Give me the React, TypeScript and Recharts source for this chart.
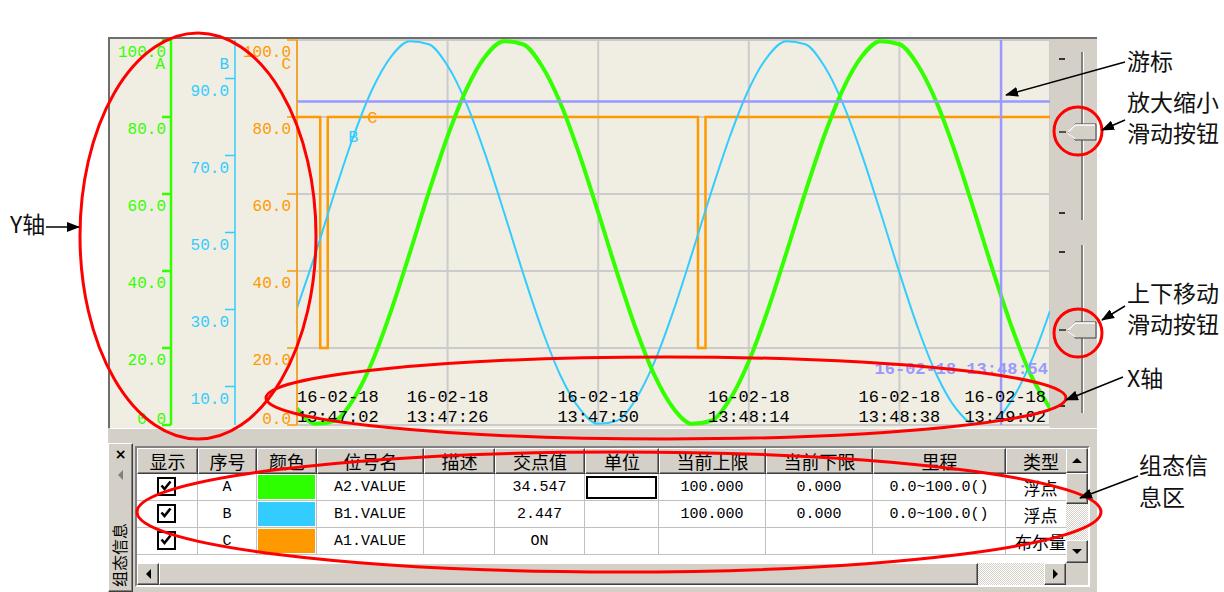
import React from 'react';
import { LineChart, Line, XAxis, YAxis, CartesianGrid, ReferenceLine, ReferenceDot } from 'recharts';

const MONO = '"Liberation Mono", "DejaVu Sans Mono", monospace';
const CJK = '"Noto Sans CJK SC", "Noto Sans", sans-serif';

const GREEN = '#33FF00';
const BLUE = '#33CCFF';
const ORANGE = '#FF9900';
const CURSOR = '#9999FF';
const PANEL = '#D4D0C8';
const PLOT_BG = '#F0EDE2';
const GRID = '#CBCBCB';

// axis ids (C sits next to the plot, A is outermost)
const AX_A = 'yc';
const AX_B = 'yb';
const AX_C = 'ya';

// ---- data ----
const dateLabel = '16-02-18';
const tickSeconds = [0, 24, 48, 72, 96, 120];
const timeLabels = ['13:47:02', '13:47:26', '13:47:50', '13:48:14', '13:48:38', '13:49:02'];

const sampleTimes = [0, 3, 6, 9, 12, 15, 18, 21, 24, 27, 30, 33, 36, 39, 42, 45, 48, 51, 54, 57, 60, 63, 66, 69, 72, 75, 78, 81, 84, 87, 90, 93, 96, 99, 102, 105, 108, 111, 114, 117, 120];
const seriesA = [4.3, 0.3, 1.1, 6.7, 16.5, 29.7, 44.8, 60.4, 75.0, 87.2, 95.7, 99.7, 98.9, 93.3, 83.5, 70.3, 55.2, 39.6, 25.0, 12.8, 4.3, 0.3, 1.1, 6.7, 16.5, 29.7, 44.8, 60.4, 75.0, 87.2, 95.7, 99.7, 98.9, 93.3, 83.5, 70.3, 55.2, 39.6, 25.0, 12.8, 4.4];
const seriesB = [30.4, 44.8, 60.4, 75.0, 87.2, 95.7, 99.7, 98.9, 93.3, 83.5, 70.3, 55.2, 39.6, 25.0, 12.8, 4.3, 0.3, 1.1, 6.7, 16.5, 29.7, 44.8, 60.4, 75.0, 87.2, 95.7, 99.7, 98.9, 93.3, 83.5, 70.3, 55.2, 39.6, 25.0, 12.8, 4.3, 0.3, 1.1, 6.7, 16.5, 29.6];
const cTimes = [0, 3.7, 4.9, 63.9, 65.1, 120];
const seriesC = [80, 20, 80, 20, 80, 80];

const ticksA = [0, 20, 40, 60, 80, 100];
const ticksB = [10, 30, 50, 70, 90];
const ticksC = [0, 20, 40, 60, 80, 100];

const labelBIndex = 3; // B tag sits on the B curve at t = 9 s
const labelCTime = 12;
const labelCValue = 80;

const cursorTime = 112.2;
const cursorValue = 84;
const cursorText = '16-02-18 13:48:54';

// table
const tableHeaders = ['显示', '序号', '颜色', '位号名', '描述', '交点值', '单位', '当前上限', '当前下限', '里程', '类型'];
const tableWidths = [61, 59, 60, 107, 71, 90, 74, 107, 107, 133, 70];
const tagIds = ['A', 'B', 'C'];
const tagColors = ['#2EFF00', '#33CCFF', '#FF9900'];
const tagNames = ['A2.VALUE', 'B1.VALUE', 'A1.VALUE'];
const crossValues = ['34.547', '2.447', 'ON'];
const upperLimits = ['100.000', '100.000', ''];
const lowerLimits = ['0.000', '0.000', ''];
const ranges = ['0.0~100.0()', '0.0~100.0()', ''];
const dataTypes = ['浮点', '浮点', '布尔量'];

const chartRows: any[] = [
  ...sampleTimes.map((t, i) => ({ t, a: seriesA[i], b: seriesB[i] })),
  ...cTimes.map((t, i) => ({ t, c: seriesC[i] })),
].sort((p, q) => p.t - q.t);

const YTick = ({ x, y, payload, color }: any) => {
  const v = payload.value;
  return (
    <text x={x + 4} y={v === 0 ? y - 1 : y + 17} textAnchor="end" fill={color} fontFamily={MONO} fontSize={16}>
      {Number(v).toFixed(1)}
    </text>
  );
};

const XTick = ({ x, y, payload }: any) => {
  const i = tickSeconds.indexOf(payload.value);
  const last = tickSeconds.length - 1;
  const anchor = i === 0 ? 'start' : i === last ? 'end' : 'middle';
  const tx = i === last ? x - 4 : x;
  return (
    <g>
      <text x={tx} y={y - 23} textAnchor={anchor} fill="#000" fontFamily={MONO} fontSize={17}>{dateLabel}</text>
      <text x={tx} y={y - 3} textAnchor={anchor} fill="#000" fontFamily={MONO} fontSize={17}>{timeLabels[i]}</text>
    </g>
  );
};

const AxisName = ({ viewBox, text, color }: any) =>
  viewBox ? (
    <text x={viewBox.x + viewBox.width - 6} y={viewBox.y + 29} textAnchor="end" fill={color} fontFamily={MONO} fontSize={16}>
      {text}
    </text>
  ) : null;

const CursorLabel = ({ viewBox }: any) =>
  viewBox ? (
    <text x={viewBox.x + viewBox.width - 2} y={335} textAnchor="end" fill={CURSOR} fontFamily={MONO} fontSize={17} fontWeight="bold">
      {cursorText}
    </text>
  ) : null;

const raised: React.CSSProperties = {
  position: 'absolute',
  background: PANEL,
  boxSizing: 'border-box',
  borderStyle: 'solid',
  borderWidth: 1,
  borderColor: '#fff #404040 #404040 #fff',
  boxShadow: 'inset -1px -1px 0 #808080',
};

const hatch: React.CSSProperties = {
  position: 'absolute',
  background: 'repeating-conic-gradient(#D4D0C8 0 25%, #ffffff 0 50%) 0 0 / 2px 2px',
};

const Tri = ({ dir, color = '#000' }: { dir: 'up' | 'down' | 'left' | 'right'; color?: string }) => {
  const pts =
    dir === 'up' ? '0,6 5,1 10,6' : dir === 'down' ? '0,1 5,6 10,1' : dir === 'left' ? '6,0 1,5 6,10' : '1,0 6,5 1,10';
  const w = dir === 'up' || dir === 'down' ? 10 : 7;
  const h = dir === 'up' || dir === 'down' ? 7 : 10;
  return (
    <svg width={w} height={h} style={{ position: 'absolute', left: '50%', top: '50%', marginLeft: -w / 2, marginTop: -h / 2 }}>
      <polygon points={pts} fill={color} />
    </svg>
  );
};

const CheckBox = () => (
  <div style={{ position: 'absolute', left: '50%', top: '50%', width: 19, height: 19, marginLeft: -10, marginTop: -10, border: '2.5px solid #000', boxSizing: 'border-box', background: '#fff' }}>
    <svg width={14} height={14} style={{ position: 'absolute', left: 0, top: 0 }}>
      <polyline points="2.5,6.5 5.5,10 11.5,2.5" fill="none" stroke="#000" strokeWidth={2.6} />
    </svg>
  </div>
);

const Slider = ({ top, bottom, thumb }: { top: number; bottom: number; thumb: number }) => (
  <g>
    <line x1={1059} x2={1065} y1={top + 7} y2={top + 7} stroke="#000" strokeWidth={1.5} />
    <line x1={1059} x2={1065} y1={bottom - 7} y2={bottom - 7} stroke="#000" strokeWidth={1.5} />
    <line x1={1082} x2={1082} y1={top} y2={bottom} stroke="#808080" strokeWidth={2} />
    <line x1={1083.5} x2={1083.5} y1={top} y2={bottom} stroke="#ffffff" strokeWidth={1} />
    <line x1={1059} x2={1066} y1={thumb} y2={thumb} stroke="#000" strokeWidth={1.2} />
    <polygon
      points={`1068,${thumb} 1075,${thumb - 8} 1096,${thumb - 8} 1096,${thumb + 8} 1075,${thumb + 8}`}
      fill={PANEL}
      stroke="#404040"
      strokeWidth={1}
    />
    <polyline points={`1068,${thumb} 1075,${thumb - 7} 1095,${thumb - 7}`} fill="none" stroke="#fff" strokeWidth={1.5} />
    <line x1={1068} x2={1075} y1={thumb + 1} y2={thumb + 7} stroke="#fff" strokeWidth={1.2} />
  </g>
);

const colLefts = tableWidths.map((_, i) => tableWidths.slice(0, i).reduce((s, w) => s + w, 0));

const cellText = (txt: string, cjk = false): React.ReactNode => (
  <div style={{ position: 'absolute', inset: 0, display: 'flex', alignItems: 'center', justifyContent: 'center', fontFamily: cjk ? CJK : MONO, fontSize: cjk ? 17 : 15, color: '#000', whiteSpace: 'nowrap' }}>
    {txt}
  </div>
);

const renderCell = (r: number, c: number): React.ReactNode => {
  switch (c) {
    case 0:
      return <CheckBox />;
    case 1:
      return cellText(tagIds[r]);
    case 2:
      return <div style={{ position: 'absolute', left: 1, top: 1, right: 1, bottom: 1, background: tagColors[r] }} />;
    case 3:
      return cellText(tagNames[r]);
    case 5:
      return cellText(crossValues[r]);
    case 6:
      return r === 0 ? <div style={{ position: 'absolute', left: 1, top: 2, right: 1, bottom: 1, border: '2px solid #000' }} /> : null;
    case 7:
      return cellText(upperLimits[r]);
    case 8:
      return cellText(lowerLimits[r]);
    case 9:
      return cellText(ranges[r]);
    case 10:
      return cellText(dataTypes[r], true);
    default:
      return null;
  }
};

const annoText: React.SVGProps<SVGTextElement> = { fontFamily: CJK, fontSize: 23, fill: '#111' };

export default function App() {
  return (
    <div style={{ position: 'absolute', left: 0, top: 0, width: 1224, height: 592, background: '#fff', overflow: 'hidden', fontFamily: CJK }}>
      {/* window */}
      <div style={{ position: 'absolute', left: 108, top: 37, width: 989, height: 555, background: PANEL }} />
      <div style={{ position: 'absolute', left: 108, top: 37, width: 989, height: 2, background: '#6E6E6E' }} />
      <div style={{ position: 'absolute', left: 108, top: 37, width: 2, height: 391, background: '#6E6E6E' }} />
      <div style={{ position: 'absolute', left: 110, top: 428, width: 987, height: 1, background: '#FFFFFF' }} />

      {/* trend chart */}
      <div style={{ position: 'absolute', left: 110, top: 39, width: 940, height: 389, background: PLOT_BG }}>
        <LineChart width={940} height={389} data={chartRows} margin={{ top: 1, right: 0, bottom: 0, left: 0 }}>
          <CartesianGrid yAxisId={AX_C} stroke={GRID} strokeWidth={2} />
          <XAxis
            dataKey="t"
            type="number"
            domain={[0, 120]}
            ticks={tickSeconds}
            interval={0}
            height={3}
            tickSize={0}
            tickMargin={0}
            axisLine={false}
            tickLine={false}
            tick={<XTick />}
            allowDataOverflow
          />
          <YAxis
            yAxisId={AX_C}
            type="number"
            domain={[0, 100]}
            ticks={ticksC}
            interval={0}
            width={62}
            tickSize={10}
            tickMargin={0}
            axisLine={{ stroke: ORANGE, strokeWidth: 1.5 }}
            tickLine={{ stroke: ORANGE, strokeWidth: 1.5 }}
            tick={<YTick color={ORANGE} />}
            label={<AxisName text="C" color={ORANGE} />}
          />
          <YAxis
            yAxisId={AX_B}
            type="number"
            domain={[0, 100]}
            ticks={ticksB}
            interval={0}
            width={64}
            tickSize={10}
            tickMargin={0}
            axisLine={{ stroke: BLUE, strokeWidth: 1.5 }}
            tickLine={{ stroke: BLUE, strokeWidth: 1.5 }}
            tick={<YTick color={BLUE} />}
            label={<AxisName text="B" color={BLUE} />}
          />
          <YAxis
            yAxisId={AX_A}
            type="number"
            domain={[0, 100]}
            ticks={ticksA}
            interval={0}
            width={61}
            tickSize={9}
            tickMargin={0}
            axisLine={{ stroke: GREEN, strokeWidth: 2.5 }}
            tickLine={{ stroke: GREEN, strokeWidth: 2.5 }}
            tick={<YTick color={GREEN} />}
            label={<AxisName text="A" color={GREEN} />}
          />
          <Line yAxisId={AX_C} dataKey="c" type="stepAfter" stroke={ORANGE} strokeWidth={2.5} dot={false} connectNulls isAnimationActive={false} />
          <Line yAxisId={AX_B} dataKey="b" type="monotone" stroke={BLUE} strokeWidth={2} dot={false} connectNulls isAnimationActive={false} />
          <Line yAxisId={AX_A} dataKey="a" type="monotone" stroke={GREEN} strokeWidth={4} dot={false} connectNulls isAnimationActive={false} />
          <ReferenceLine yAxisId={AX_C} x={cursorTime} stroke={CURSOR} strokeWidth={2.5} />
          <ReferenceLine yAxisId={AX_C} y={cursorValue} stroke={CURSOR} strokeWidth={2.5} label={<CursorLabel />} />
          <ReferenceDot
            yAxisId={AX_B}
            x={sampleTimes[labelBIndex]}
            y={seriesB[labelBIndex]}
            r={1}
            fill="none"
            stroke="none"
            label={{ value: 'B', position: 'center', fill: BLUE, fontSize: 17, fontFamily: MONO }}
          />
          <ReferenceDot
            yAxisId={AX_C}
            x={labelCTime}
            y={labelCValue}
            r={1}
            fill="none"
            stroke="none"
            label={{ value: 'C', position: 'center', fill: ORANGE, fontSize: 17, fontFamily: MONO }}
          />
        </LineChart>
      </div>

      {/* info area: left strip */}
      <div style={{ ...raised, left: 108, top: 443, width: 25, height: 149 }}>
        <div style={{ position: 'absolute', left: 0, right: 0, top: 2, textAlign: 'center', fontFamily: '"DejaVu Sans", sans-serif', fontWeight: 'bold', fontSize: 14, lineHeight: '16px' }}>×</div>
        <div style={{ position: 'absolute', left: 0, right: 0, top: 24, height: 14 }}>
          <Tri dir="left" color="#808080" />
        </div>
        <svg width={25} height={149} style={{ position: 'absolute', left: -1, top: -1 }}>
          <text transform="translate(18,144) rotate(-90)" fontFamily={CJK} fontSize={16} fill="#000">组态信息</text>
        </svg>
      </div>

      {/* info area: table frame */}
      <div style={{ position: 'absolute', left: 135, top: 446, width: 955, height: 141, boxSizing: 'border-box', borderStyle: 'solid', borderWidth: 2, borderColor: '#808080 #ffffff #ffffff #808080', background: '#fff' }} />
      <div style={{ position: 'absolute', left: 137, top: 448, width: 929, height: 107, overflow: 'hidden' }}>
        {tableHeaders.map((h, c) => (
          <div key={'h' + c} style={{ ...raised, left: colLefts[c], top: 0, width: tableWidths[c], height: 26 }}>
            <div style={{ position: 'absolute', inset: 0, display: 'flex', alignItems: 'center', justifyContent: 'center', fontFamily: CJK, fontSize: 18, whiteSpace: 'nowrap' }}>{h}</div>
          </div>
        ))}
        {tagIds.map((_, r) =>
          tableWidths.map((w, c) => (
            <div
              key={'c' + r + '-' + c}
              style={{ position: 'absolute', left: colLefts[c], top: 26 + r * 27, width: w, height: 27, boxSizing: 'border-box', borderRight: '1px solid #C0C0C0', borderBottom: '1px solid #C0C0C0', background: '#fff', overflow: 'visible' }}
            >
              {renderCell(r, c)}
            </div>
          ))
        )}
      </div>

      {/* vertical scrollbar */}
      <div style={{ ...raised, left: 1066, top: 448, width: 22, height: 25 }}><Tri dir="up" /></div>
      <div style={{ ...raised, left: 1066, top: 473, width: 22, height: 31 }} />
      <div style={{ ...hatch, left: 1066, top: 504, width: 22, height: 36 }} />
      <div style={{ ...raised, left: 1066, top: 540, width: 22, height: 23 }}><Tri dir="down" /></div>

      {/* horizontal scrollbar */}
      <div style={{ ...raised, left: 137, top: 563, width: 22, height: 22 }}><Tri dir="left" /></div>
      <div style={{ ...raised, left: 159, top: 563, width: 819, height: 22 }} />
      <div style={{ ...hatch, left: 978, top: 563, width: 66, height: 22 }} />
      <div style={{ ...raised, left: 1044, top: 563, width: 22, height: 22 }}><Tri dir="right" /></div>
      <div style={{ position: 'absolute', left: 1066, top: 563, width: 22, height: 22, background: PANEL }} />

      {/* sliders + annotations */}
      <svg width={1224} height={592} style={{ position: 'absolute', left: 0, top: 0, pointerEvents: 'none' }}>
        <defs>
          <marker id="ah" markerWidth={13} markerHeight={10} refX={12} refY={5} orient="auto" markerUnits="userSpaceOnUse">
            <path d="M0,0 L13,5 L0,10 z" fill="#000" />
          </marker>
        </defs>
        <Slider top={52} bottom={220} thumb={132} />
        <Slider top={245} bottom={413} thumb={330} />

        {/* red ellipses */}
        <ellipse cx={198} cy={236} rx={118} ry={203} fill="none" stroke="#FF0000" strokeWidth={3} />
        <ellipse cx={666} cy={398} rx={400} ry={41} fill="none" stroke="#FF0000" strokeWidth={3} />
        <ellipse cx={619} cy={512} rx={482} ry={60} fill="none" stroke="#FF0000" strokeWidth={3} />
        <circle cx={1078} cy={131} r={24} fill="none" stroke="#FF0000" strokeWidth={3} />
        <circle cx={1078} cy={333} r={24} fill="none" stroke="#FF0000" strokeWidth={3} />

        {/* arrows */}
        <line x1={46} y1={227} x2={79} y2={227} stroke="#000" strokeWidth={1.5} markerEnd="url(#ah)" />
        <line x1={1125} y1={62} x2={1006} y2={95} stroke="#000" strokeWidth={1.5} markerEnd="url(#ah)" />
        <line x1={1125} y1={120} x2={1102} y2={130} stroke="#000" strokeWidth={1.5} markerEnd="url(#ah)" />
        <line x1={1125} y1={306} x2={1102} y2={320} stroke="#000" strokeWidth={1.5} markerEnd="url(#ah)" />
        <line x1={1123} y1={377} x2={1066} y2={400} stroke="#000" strokeWidth={1.5} markerEnd="url(#ah)" />
        <line x1={1138} y1={476} x2={1080} y2={498} stroke="#000" strokeWidth={1.5} markerEnd="url(#ah)" />

        {/* annotation texts */}
        <text x={10} y={233} {...annoText}>Y轴</text>
        <text x={1127} y={70} {...annoText}>游标</text>
        <text x={1127} y={111} {...annoText}>放大缩小</text>
        <text x={1127} y={142} {...annoText}>滑动按钮</text>
        <text x={1127} y={302} {...annoText}>上下移动</text>
        <text x={1127} y={333} {...annoText}>滑动按钮</text>
        <text x={1127} y={387} {...annoText}>X轴</text>
        <text x={1139} y={474} {...annoText}>组态信</text>
        <text x={1139} y={506} {...annoText}>息区</text>
      </svg>
    </div>
  );
}
